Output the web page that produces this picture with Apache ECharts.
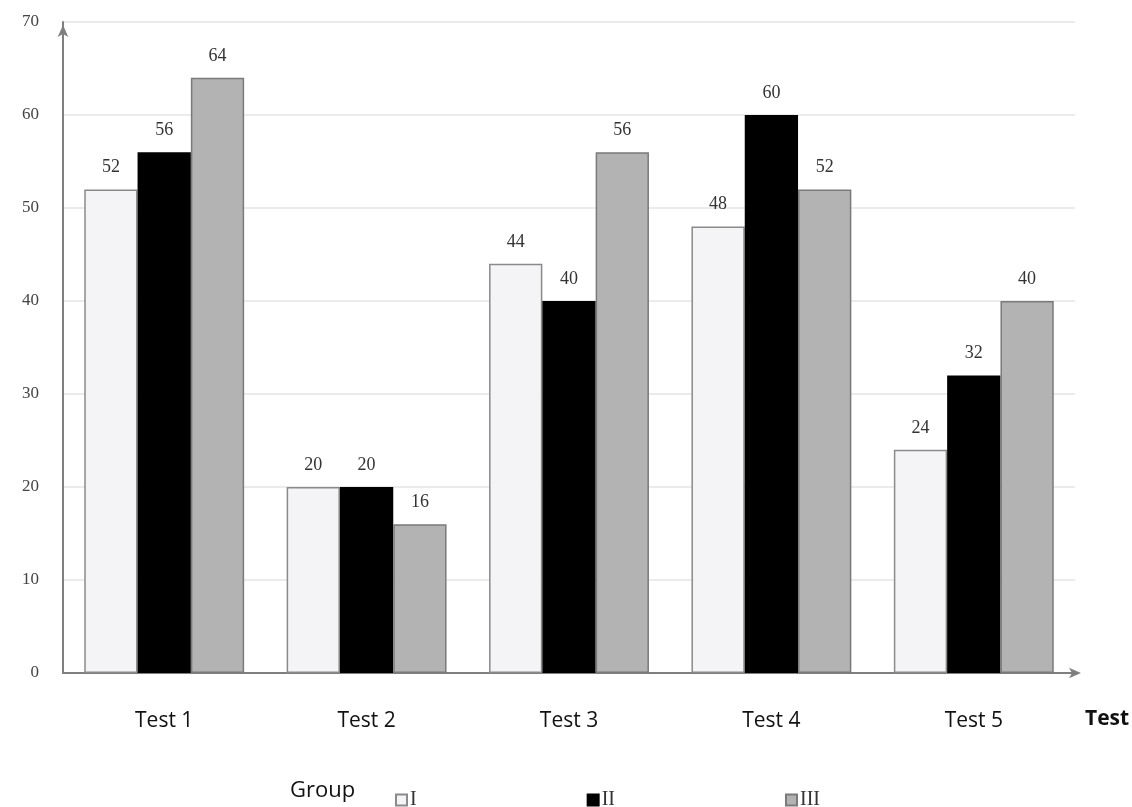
<!DOCTYPE html>
<html>
<head>
<meta charset="utf-8">
<style>
  html, body { margin: 0; padding: 0; background: #fff; }
  #chart { width: 1132px; height: 807px; }
</style>
<script src="https://cdn.jsdelivr.net/npm/echarts@6/dist/echarts.min.js"></script>
</head>
<body>
<div id="chart"></div>
<script>
// Scores per test for each group
const categories = ['Test 1', 'Test 2', 'Test 3', 'Test 4', 'Test 5'];
const groupI = [52, 20, 44, 48, 24];
const groupII = [56, 20, 40, 60, 32];
const groupIII = [64, 16, 56, 52, 40];
const seriesNames = ['I', 'II', 'III'];

const serif = '"Liberation Serif", "DejaVu Serif", serif';
const sans = '"Open Sans", "Noto Sans", sans-serif';

const labelStyle = {
  show: true,
  position: 'top',
  distance: 13,
  fontFamily: serif,
  fontSize: 18,
  color: '#333'
};

function barSeries(name, data, fill, border) {
  return {
    name: name,
    type: 'bar',
    data: data,
    barGap: '0%',
    barCategoryGap: '21%',
    itemStyle: { color: fill, borderColor: border, borderWidth: 1.5 },
    label: labelStyle
  };
}

const chart = echarts.init(document.getElementById('chart'), null, { renderer: 'canvas' });

chart.setOption({
  animation: false,
  backgroundColor: '#fff',
  grid: { left: 63, right: 57, top: 22, bottom: 134, containLabel: false },
  legend: {
    data: seriesNames,
    icon: 'rect',
    left: 390,
    top: 785,
    itemWidth: 11,
    itemHeight: 11,
    itemGap: 170,
    itemStyle: { borderWidth: 2 },
    textStyle: { fontFamily: serif, fontSize: 20, color: '#333', padding: [0, 0, 0, -2] }
  },
  xAxis: {
    type: 'category',
    data: categories,
    axisLine: {
      show: true,
      lineStyle: { color: '#7f7f7f', width: 2 },
      symbol: ['none', 'arrow'],
      symbolSize: [8, 12],
      symbolOffset: [0, 6]
    },
    axisTick: { show: false },
    axisLabel: { margin: 38, fontFamily: sans, fontSize: 21, color: '#111' }
  },
  yAxis: {
    type: 'value',
    min: 0,
    max: 70,
    interval: 10,
    axisLine: {
      show: true,
      lineStyle: { color: '#7f7f7f', width: 2 },
      symbol: ['none', 'arrow'],
      symbolSize: [8, 12],
      symbolOffset: [0, -3]
    },
    axisTick: { show: false },
    axisLabel: { margin: 24, fontFamily: serif, fontSize: 17, color: '#444' },
    splitLine: { show: true, lineStyle: { color: '#e4e4e4', width: 1.5 } }
  },
  graphic: [
    {
      type: 'text',
      left: 1085,
      top: 709,
      style: { text: 'Test', font: 'bold 21px ' + sans, fill: '#111' }
    },
    {
      type: 'text',
      left: 290,
      top: 780,
      style: { text: 'Group', font: '22px ' + sans, fill: '#111' }
    }
  ],
  series: [
    barSeries('I', groupI, '#f4f4f7', '#8a8a8a'),
    barSeries('II', groupII, '#000000', '#000000'),
    barSeries('III', groupIII, '#b3b3b3', '#7a7a7a')
  ]
});
</script>
</body>
</html>
